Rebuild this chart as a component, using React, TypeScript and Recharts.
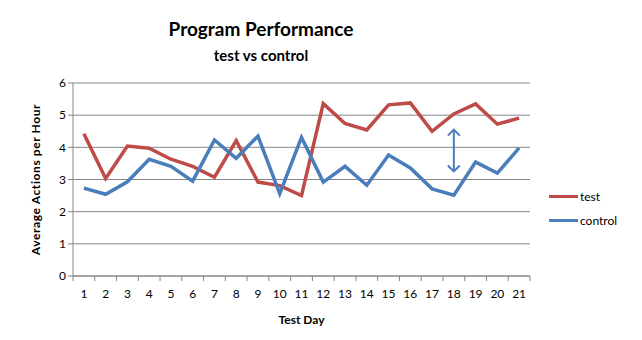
import { LineChart, Line, XAxis, YAxis, CartesianGrid, ReferenceLine } from "recharts";

const days = ["1","2","3","4","5","6","7","8","9","10","11","12","13","14","15","16","17","18","19","20","21"];
const testValues = [4.42, 3.03, 4.04, 3.97, 3.63, 3.41, 3.07, 4.21, 2.92, 2.81, 2.5, 5.36, 4.74, 4.54, 5.32, 5.38, 4.5, 5.04, 5.35, 4.72, 4.91];
const controlValues = [2.73, 2.54, 2.93, 3.63, 3.41, 2.95, 4.23, 3.66, 4.35, 2.56, 4.31, 2.92, 3.41, 2.82, 3.76, 3.36, 2.71, 2.51, 3.54, 3.2, 3.98];
const yTicks = [0, 1, 2, 3, 4, 5, 6];
const gapDay = "18";
const gapRange = [4.55, 3.25];

const data = days.map((d, i) => ({ day: d, test: testValues[i], control: controlValues[i] }));

const FONT = "Lato, 'Open Sans', sans-serif";
const RED = "#BE4B48";
const BLUE = "#4A7EBB";
const AXIS = "#868686";
const BAND = 457 / days.length;

function DayTick(props: any) {
  const { x, y, payload, index } = props;
  const left = x - BAND / 2;
  return (
    <g>
      <line x1={left} y1={y - 8} x2={left} y2={y - 3} stroke={AXIS} />
      {index === days.length - 1 && <line x1={x + BAND / 2} y1={y - 8} x2={x + BAND / 2} y2={y - 3} stroke={AXIS} />}
      <text x={x} y={y + 14} textAnchor="middle" fontSize={12} fontFamily={FONT} fill="#000">
        {payload.value}
      </text>
    </g>
  );
}

function GapArrow(props: any) {
  const { x1, y1, x2, y2 } = props;
  const h = 6;
  return (
    <g stroke={BLUE} strokeWidth={2} fill="none">
      <line x1={x1} y1={y1} x2={x2} y2={y2} />
      <polyline points={`${x1 - h},${y1 + h} ${x1},${y1} ${x1 + h},${y1 + h}`} />
      <polyline points={`${x2 - h},${y2 - h} ${x2},${y2} ${x2 + h},${y2 - h}`} />
    </g>
  );
}

function YTitle(props: any) {
  const { viewBox } = props;
  const cx = viewBox.x - 8;
  const cy = viewBox.y + viewBox.height / 2;
  return (
    <text
      x={cx}
      y={cy}
      transform={`rotate(-90 ${cx} ${cy})`}
      textAnchor="middle"
      dominantBaseline="central"
      fontSize={12}
      fontWeight={700}
      fontFamily={FONT}
      letterSpacing={0.6}
      fill="#000"
    >
      Average Actions  per Hour
    </text>
  );
}

const legendItems = [
  { name: "test", color: RED },
  { name: "control", color: BLUE },
];

export default function App() {
  return (
    <div style={{ position: "absolute", left: 0, top: 0, width: 642, height: 340, background: "#fff" }}>
      <div style={{ position: "absolute", left: 0, width: 522, top: 17, textAlign: "center", fontFamily: FONT, fontWeight: 700, fontSize: 19, color: "#000" }}>
        Program Performance
      </div>
      <div style={{ position: "absolute", left: 0, width: 522, top: 46, textAlign: "center", fontFamily: FONT, fontWeight: 700, fontSize: 15, color: "#000" }}>
        test vs control
      </div>
      <div style={{ position: "absolute", left: 549, top: 184, fontFamily: FONT, fontSize: 12, color: "#000" }}>
        {legendItems.map((it) => (
          <div key={it.name} style={{ display: "flex", alignItems: "center", height: 24 }}>
            <div style={{ width: 29, height: 3, background: it.color, marginRight: 2 }} />
            <span>{it.name}</span>
          </div>
        ))}
      </div>
      <div style={{ position: "absolute", left: 0, top: 0 }}>
        <LineChart width={642} height={340} data={data} margin={{ top: 83, right: 112, bottom: 4, left: 43 }}>
          <CartesianGrid vertical={false} stroke={AXIS} strokeWidth={1} />
          <XAxis
            dataKey="day"
            stroke={AXIS}
            tickLine={false}
            tick={<DayTick />}
            interval={0}
            height={60}
            padding={{ left: BAND / 2, right: BAND / 2 }}
            label={{ value: "Test Day", position: "insideBottom", offset: 12, fontSize: 12, fontWeight: 700, fontFamily: FONT, fill: "#000" }}
          />
          <YAxis
            domain={[0, 6]}
            ticks={yTicks}
            width={30}
            stroke={AXIS}
            tickSize={5}
            tick={{ fontSize: 12, fontFamily: FONT, fill: "#000" }}
            label={<YTitle />}
          />
          <ReferenceLine
            segment={[{ x: gapDay, y: gapRange[0] }, { x: gapDay, y: gapRange[1] }]}
            shape={<GapArrow />}
          />
          <Line type="linear" dataKey="test" name="test" stroke={RED} strokeWidth={3.5} dot={false} isAnimationActive={false} />
          <Line type="linear" dataKey="control" name="control" stroke={BLUE} strokeWidth={3.5} dot={false} isAnimationActive={false} />
        </LineChart>
      </div>
    </div>
  );
}
